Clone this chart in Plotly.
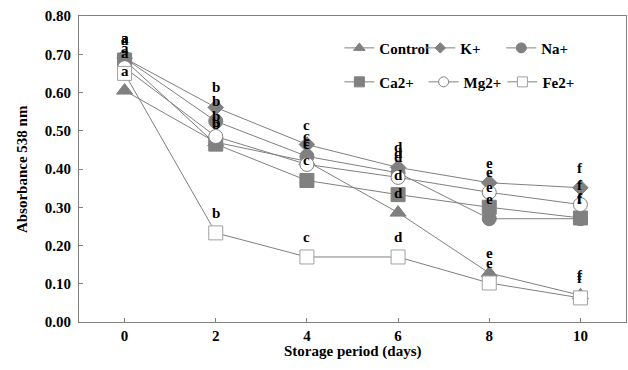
import plotly.graph_objects as go

days = [0, 2, 4, 6, 8, 10]
letters = ["a", "b", "c", "d", "e", "f"]
series_names = ["Control", "K+", "Na+", "Ca2+", "Mg2+", "Fe2+"]
control = [0.605, 0.47, 0.42, 0.286, 0.128, 0.07]
k_plus = [0.69, 0.561, 0.464, 0.404, 0.364, 0.351]
na_plus = [0.69, 0.525, 0.433, 0.39, 0.27, 0.27]
ca_plus = [0.685, 0.465, 0.37, 0.333, 0.30, 0.272]
mg_plus = [0.665, 0.485, 0.412, 0.378, 0.339, 0.307]
fe_plus = [0.65, 0.233, 0.17, 0.17, 0.102, 0.063]
y_ticks = [0.0, 0.1, 0.2, 0.3, 0.4, 0.5, 0.6, 0.7, 0.8]

GREY = "#808080"
FONT = "Liberation Serif"

styles = {
    "Control": dict(symbol="triangle-up", color=GREY, lc=GREY, size=14),
    "K+": dict(symbol="diamond", color=GREY, lc=GREY, size=12),
    "Na+": dict(symbol="circle", color=GREY, lc=GREY, size=14),
    "Ca2+": dict(symbol="square", color=GREY, lc=GREY, size=14),
    "Mg2+": dict(symbol="circle", color="white", lc=GREY, size=14),
    "Fe2+": dict(symbol="square", color="white", lc="#a0a0a0", size=14),
}
values = [control, k_plus, na_plus, ca_plus, mg_plus, fe_plus]
legend_ids = ["legend", "legend2", "legend3", "legend4", "legend5", "legend6"]
legend_pos = [(0.476, 0.895), (0.624, 0.895), (0.772, 0.895),
              (0.476, 0.784), (0.630, 0.784), (0.774, 0.784)]

fig = go.Figure()
for i, (name, vals) in enumerate(zip(series_names, values)):
    st = styles[name]
    fig.add_trace(go.Scatter(
        x=days, y=vals, name=name, mode="lines+markers", showlegend=False,
        line=dict(color=GREY, width=1),
        marker=dict(symbol=st["symbol"], color=st["color"], size=st["size"],
                    line=dict(color=st["lc"], width=1)),
    ))
    # legend entry with a smaller symbol, as in the reference
    fig.add_trace(go.Scatter(
        x=[None], y=[None], name="<b>%s</b>" % name, mode="lines+markers",
        line=dict(color=GREY, width=1),
        marker=dict(symbol=st["symbol"], color=st["color"], size=st["size"] - 4,
                    line=dict(color=st["lc"], width=1)),
        legend=legend_ids[i],
    ))

annotations = []
for vals in values:
    for d, v, lt in zip(days, vals, letters):
        annotations.append(dict(x=d, y=v, text="<b>%s</b>" % lt, showarrow=False,
                                yshift=20, font=dict(family=FONT, size=15, color="black")))
annotations.append(dict(xref="paper", yref="paper", x=0.5, y=-0.098, yanchor="middle",
                        text="<b>Storage period (days)</b>", showarrow=False,
                        font=dict(family=FONT, size=15, color="black")))
annotations.append(dict(xref="paper", yref="paper", x=-0.104, y=0.5, xanchor="center",
                        yanchor="middle", textangle=-90,
                        text="<b>Absorbance 538 nm</b>", showarrow=False,
                        font=dict(family=FONT, size=15, color="black")))

layout_legends = {}
for lid, (lx, ly) in zip(legend_ids, legend_pos):
    layout_legends[lid] = dict(x=lx, y=ly, xanchor="left", yanchor="middle",
                               orientation="h", itemwidth=30,
                               font=dict(family=FONT, size=15, color="black"),
                               bgcolor="rgba(0,0,0,0)", borderwidth=0)

fig.update_layout(
    width=628, height=370,
    margin=dict(l=79, r=2, t=16, b=48, autoexpand=False),
    paper_bgcolor="white", plot_bgcolor="white",
    showlegend=True,
    annotations=annotations,
    font=dict(family=FONT, color="black"),
    **layout_legends,
)
fig.update_xaxes(
    range=[-1, 11], tickvals=days, ticktext=["<b>%d</b>" % d for d in days],
    showline=True, linecolor=GREY, linewidth=1, mirror=True, automargin=False,
    ticks="inside", ticklen=4, tickcolor=GREY, showgrid=False, zeroline=False,
    tickfont=dict(family=FONT, size=15, color="black"),
)
fig.update_yaxes(
    range=[0, 0.8], tickvals=y_ticks, ticktext=["<b>%.2f</b>" % t for t in y_ticks],
    showline=True, linecolor=GREY, linewidth=1, mirror=True, automargin=False,
    ticks="inside", ticklen=4, tickcolor=GREY, showgrid=False, zeroline=False,
    ticklabelstandoff=4,
    tickfont=dict(family=FONT, size=15, color="black"),
)

fig.write_html("out.html", config={"displayModeBar": False},
               post_script="document.body.style.margin='0';")
